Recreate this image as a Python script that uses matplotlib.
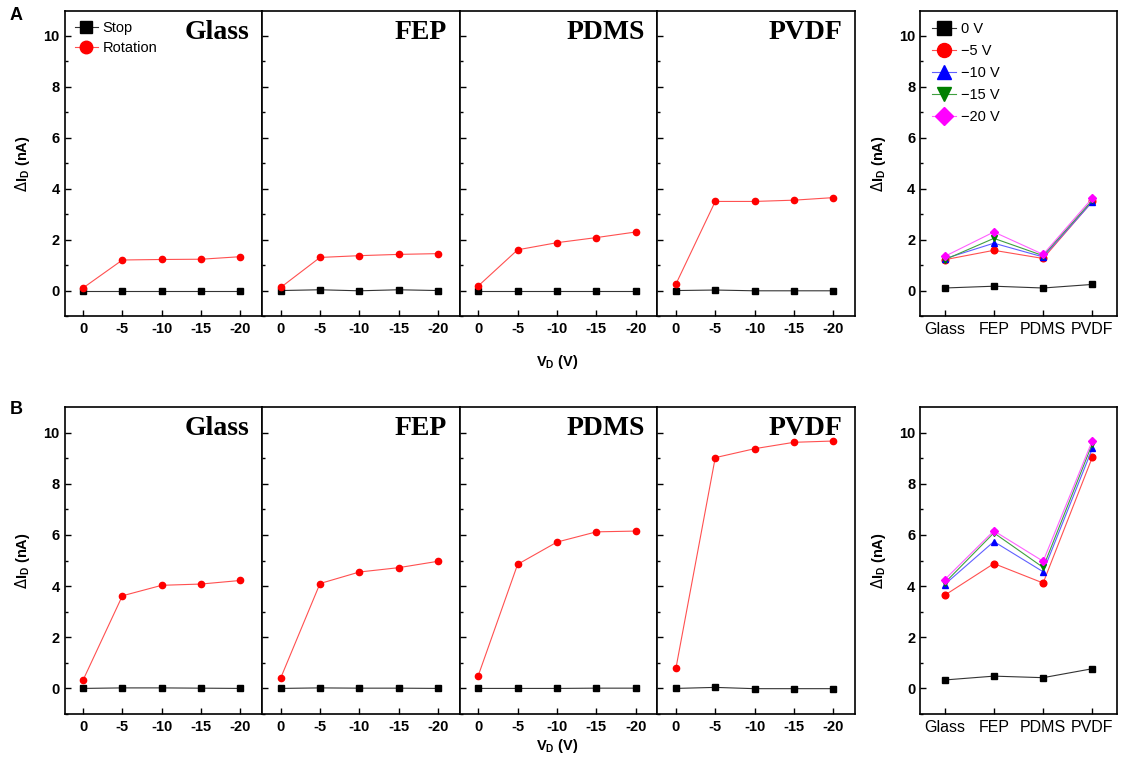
import numpy as np
import matplotlib.pyplot as plt

plt.rcParams['font.family'] = ['Liberation Sans', 'DejaVu Sans']

# data
vd = [0, -5, -10, -15, -20]
vd_labels = ['0', '-5', '-10', '-15', '-20']
materials = ['Glass', 'FEP', 'PDMS', 'PVDF']

stop_A = [[0, 0, 0, 0, 0],
          [0, 0.03, -0.01, 0.03, 0],
          [0, 0, 0, 0, 0],
          [0, 0.02, -0.01, -0.01, -0.01]]
rot_A = [[0.10, 1.20, 1.22, 1.23, 1.33],
         [0.12, 1.30, 1.37, 1.42, 1.45],
         [0.18, 1.60, 1.88, 2.08, 2.30],
         [0.25, 3.50, 3.50, 3.55, 3.65]]

stop_B = [[0, 0.02, 0.02, 0.01, 0],
          [0, 0.02, 0.01, 0.01, 0],
          [0, 0, 0, 0.01, 0.01],
          [0, 0.04, -0.01, -0.01, -0.01]]
rot_B = [[0.32, 3.62, 4.03, 4.08, 4.22],
         [0.40, 4.10, 4.55, 4.72, 4.97],
         [0.50, 4.85, 5.72, 6.12, 6.15],
         [0.78, 9.02, 9.37, 9.62, 9.67]]

volt_labels = ['0 V', '\u22125 V', '\u221210 V', '\u221215 V', '\u221220 V']
sum_A = [[0.10, 0.17, 0.10, 0.24],
         [1.21, 1.58, 1.26, 3.50],
         [1.25, 1.86, 1.32, 3.49],
         [1.21, 2.05, 1.37, 3.55],
         [1.34, 2.30, 1.42, 3.63]]
sum_B = [[0.33, 0.48, 0.42, 0.77],
         [3.64, 4.88, 4.12, 9.04],
         [4.06, 5.74, 4.56, 9.38],
         [4.12, 6.08, 4.73, 9.57],
         [4.25, 6.16, 4.97, 9.69]]

volt_colors = ['black', 'red', 'blue', 'green', 'magenta']
volt_line = ['#333333', '#ff5050', '#6060ff', '#40a040', '#ff60ff']
volt_markers = ['s', 'o', '^', 'v', 'D']

fig = plt.figure(figsize=(11.22, 7.63), dpi=100)
W, H = 1122, 763


def fax(x0, y0, x1, y1):
    return fig.add_axes([x0 / W, 1 - y1 / H, (x1 - x0) / W, (y1 - y0) / H])


def style_y(ax, labels=True):
    ax.set_ylim(-1, 11)
    ax.set_yticks([0, 2, 4, 6, 8, 10])
    ax.set_yticks([-1, 1, 3, 5, 7, 9], minor=True)
    ax.tick_params(axis='y', which='both', direction='in', right=False,
                   labelleft=labels, labelsize=10.5)
    ax.tick_params(axis='y', which='major', length=4, width=1)
    ax.tick_params(axis='y', which='minor', length=2.5, width=1)
    for t in ax.get_yticklabels():
        t.set_fontweight('bold')
    for s in ax.spines.values():
        s.set_linewidth(1.2)


def row(ytop, ybot, stop, rot, legend):
    edges = np.linspace(64.5, 855, 5)
    for i, m in enumerate(materials):
        ax = fax(edges[i], ytop, edges[i + 1], ybot)
        ax.plot(range(5), stop[i], '-s', color='#333333', mfc='black', mec='black',
                ms=4.5, lw=0.8, label='Stop')
        ax.plot(range(5), rot[i], '-o', color='#ff5050', mfc='red', mec='red',
                ms=4.5, lw=0.8, label='Rotation')
        ax.set_xlim(-0.47, 4.55)
        ax.set_xticks(range(5))
        ax.set_xticklabels(vd_labels, fontweight='bold')
        ax.tick_params(axis='x', direction='in', length=4, width=1, labelsize=10.5, pad=4)
        style_y(ax, labels=(i == 0))
        ax.text(0.935, 0.97, m, transform=ax.transAxes, ha='right', va='top',
                fontsize=20, fontweight='bold', family='Liberation Serif')
        if i == 0:
            ax.set_ylabel(r'$\Delta$I$_\mathregular{D}$ (nA)', fontsize=10.5,
                          fontweight='bold', labelpad=8)
            if legend:
                ax.legend(loc='upper left', frameon=False, fontsize=10.5,
                          markerscale=2.0, handlelength=1.6, handletextpad=0.3,
                          borderaxespad=0.3, labelspacing=0.45)


def summary(ytop, ybot, data, legend):
    ax = fax(920, ytop, 1117, ybot)
    for k in range(5):
        ax.plot(range(4), data[k], '-', marker=volt_markers[k], color=volt_line[k],
                mfc=volt_colors[k], mec=volt_colors[k], ms=4.8 if k != 4 else 4.5,
                lw=0.8, label=volt_labels[k])
    ax.set_xlim(-0.5, 3.5)
    ax.set_xticks(range(4))
    ax.set_xticklabels(materials)
    ax.tick_params(axis='x', direction='in', length=4, width=1, labelsize=11.5, pad=4)
    style_y(ax)
    ax.set_ylabel(r'$\Delta$I$_\mathregular{D}$ (nA)', fontsize=10.5,
                  fontweight='bold', labelpad=8)
    if legend:
        ax.legend(loc='upper left', frameon=False, fontsize=10.5,
                  markerscale=2.1, handlelength=1.7, handletextpad=0.3,
                  borderaxespad=0.4, labelspacing=0.55)


row(10.5, 316, stop_A, rot_A, True)
row(407, 714, stop_B, rot_B, False)
summary(10.5, 316, sum_A, True)
summary(407, 714, sum_B, False)

fig.text(557 / W, 1 - 362 / H, r'V$_\mathregular{D}$ (V)', ha='center', va='center',
         fontsize=10.5, fontweight='bold')
fig.text(557 / W, 1 - 746 / H, r'V$_\mathregular{D}$ (V)', ha='center', va='center',
         fontsize=10.5, fontweight='bold')
fig.text(16 / W, 1 - 16 / H, 'A', ha='center', va='center', fontsize=13, fontweight='bold')
fig.text(16 / W, 1 - 409 / H, 'B', ha='center', va='center', fontsize=13, fontweight='bold')

fig.savefig('out.png', dpi=100)
